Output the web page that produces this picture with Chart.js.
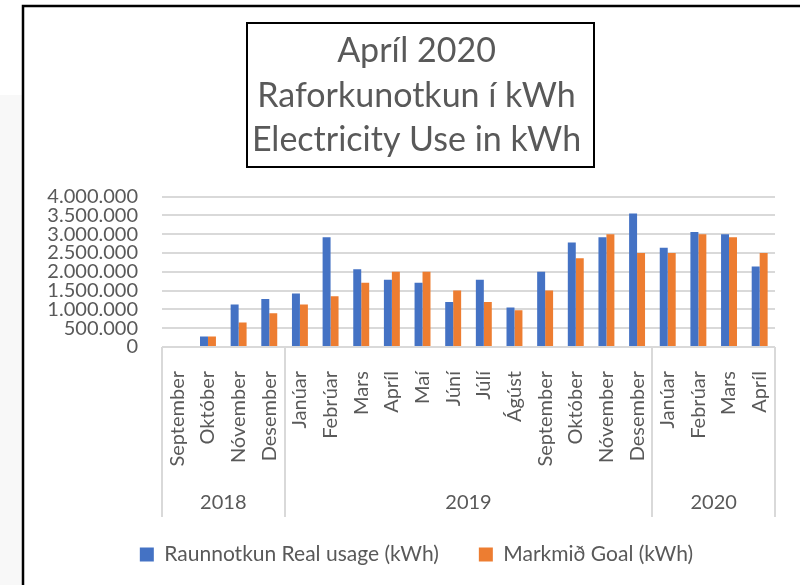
<!DOCTYPE html>
<html>
<head>
<meta charset="utf-8">
<script src="https://cdn.jsdelivr.net/npm/chart.js@4"></script>
<style>
  body { margin: 0; background: #fff; }
  #wrap { width: 800px; height: 585px; }
</style>
</head>
<body>
<div id="wrap"><canvas id="usageChart" width="800" height="585"></canvas></div>
<script>
// Months (Sept 2018 - Apr 2020)
const months = ['September', 'Október', 'Nóvember', 'Desember',
  'Janúar', 'Febrúar', 'Mars', 'Apríl', 'Maí', 'Júní', 'Júlí', 'Ágúst',
  'September', 'Október', 'Nóvember', 'Desember',
  'Janúar', 'Febrúar', 'Mars', 'Apríl'];

// Year groups under the month labels
const years = ['2018', '2019', '2020'];
const monthsPerYear = [4, 12, 4];

// kWh
const realUsage = [null, 280000, 1130000, 1280000,
  1420000, 2920000, 2070000, 1790000, 1710000, 1200000, 1790000, 1050000,
  2000000, 2780000, 2920000, 3550000,
  2640000, 3060000, 3000000, 2140000];
const goal = [null, 280000, 650000, 900000,
  1130000, 1350000, 1710000, 2000000, 2000000, 1500000, 1200000, 980000,
  1500000, 2360000, 3000000, 2500000,
  2500000, 3000000, 2920000, 2500000];

const titleLines = ['Apríl 2020', 'Raforkunotkun í kWh', 'Electricity Use in kWh'];
const seriesNames = ['Raunnotkun Real usage (kWh)', 'Markmið Goal (kWh)'];

const textGray = '#595959';
const gridGray = '#d9d9d9';

Chart.defaults.font.family = 'Lato';
Chart.defaults.color = textGray;

// frame, title box, year row
const extras = {
  id: 'extras',
  beforeDraw(chart) {
    const ctx = chart.ctx;
    ctx.save();
    ctx.fillStyle = '#fff';
    ctx.fillRect(0, 0, chart.width, chart.height);
    ctx.fillStyle = '#f8f8f8';
    ctx.fillRect(0, 95, 22, chart.height - 95);
    ctx.restore();
  },
  afterDraw(chart) {
    const ctx = chart.ctx;
    const area = chart.chartArea;
    const x = chart.scales.x;
    ctx.save();

    // outer border
    ctx.strokeStyle = '#000';
    ctx.lineWidth = 2.5;
    ctx.strokeRect(23, 6, chart.width, chart.height);

    // box round the title
    ctx.lineWidth = 2;
    ctx.strokeRect(247, 23, 347, 144);

    // year groups
    ctx.strokeStyle = gridGray;
    ctx.lineWidth = 2;
    ctx.fillStyle = textGray;
    ctx.font = '20px Lato';
    ctx.textAlign = 'center';
    ctx.textBaseline = 'middle';
    let start = -0.5;
    const edges = [start];
    years.forEach((yr, i) => {
      const end = start + monthsPerYear[i];
      const x0 = x.getPixelForValue(start);
      const x1 = x.getPixelForValue(end);
      ctx.fillText(yr, (x0 + x1) / 2, 503);
      edges.push(end);
      start = end;
    });
    edges.forEach(e => {
      const px = Math.round(x.getPixelForValue(e));
      ctx.beginPath();
      ctx.moveTo(px, area.bottom);
      ctx.lineTo(px, 517);
      ctx.stroke();
    });
    ctx.restore();
  }
};

const ctx = document.getElementById('usageChart').getContext('2d');

const usageChart = new Chart(ctx, {
  type: 'bar',
  data: {
    labels: months,
    datasets: [{
      label: seriesNames[0],
      data: realUsage,
      backgroundColor: '#4472C4'
    }, {
      label: seriesNames[1],
      data: goal,
      backgroundColor: '#ED7D31'
    }]
  },
  options: {
    responsive: false,
    animation: false,
    layout: { padding: { left: 46, right: 13, top: 6, bottom: 10 } },
    datasets: {
      bar: { categoryPercentage: 0.52, barPercentage: 1 }
    },
    plugins: {
      title: {
        display: true,
        text: titleLines,
        color: textGray,
        font: { size: 34, weight: 'normal', lineHeight: 1.31 },
        padding: { top: 23, bottom: 34 }
      },
      legend: {
        position: 'bottom',
        labels: {
          boxWidth: 14,
          boxHeight: 14,
          padding: 40,
          color: textGray,
          font: { size: 21 }
        }
      },
      tooltip: { enabled: false }
    },
    scales: {
      x: {
        grid: { display: false },
        border: { display: false },
        ticks: {
          autoSkip: false,
          minRotation: 90,
          maxRotation: 90,
          padding: 16,
          color: textGray,
          font: { size: 20 }
        },
        afterFit(scale) { scale.height = 157; }
      },
      y: {
        min: 0,
        max: 4000000,
        grid: { color: gridGray, lineWidth: 2, drawTicks: false },
        border: { display: false },
        ticks: {
          stepSize: 500000,
          autoSkip: false,
          padding: 24,
          color: textGray,
          font: { size: 20, lineHeight: 1 },
          callback: v => String(v).replace(/\B(?=(\d{3})+(?!\d))/g, '.')
        },
        afterFit(scale) { scale.width = 116; }
      }
    }
  },
  plugins: [extras]
});
</script>
</body>
</html>
